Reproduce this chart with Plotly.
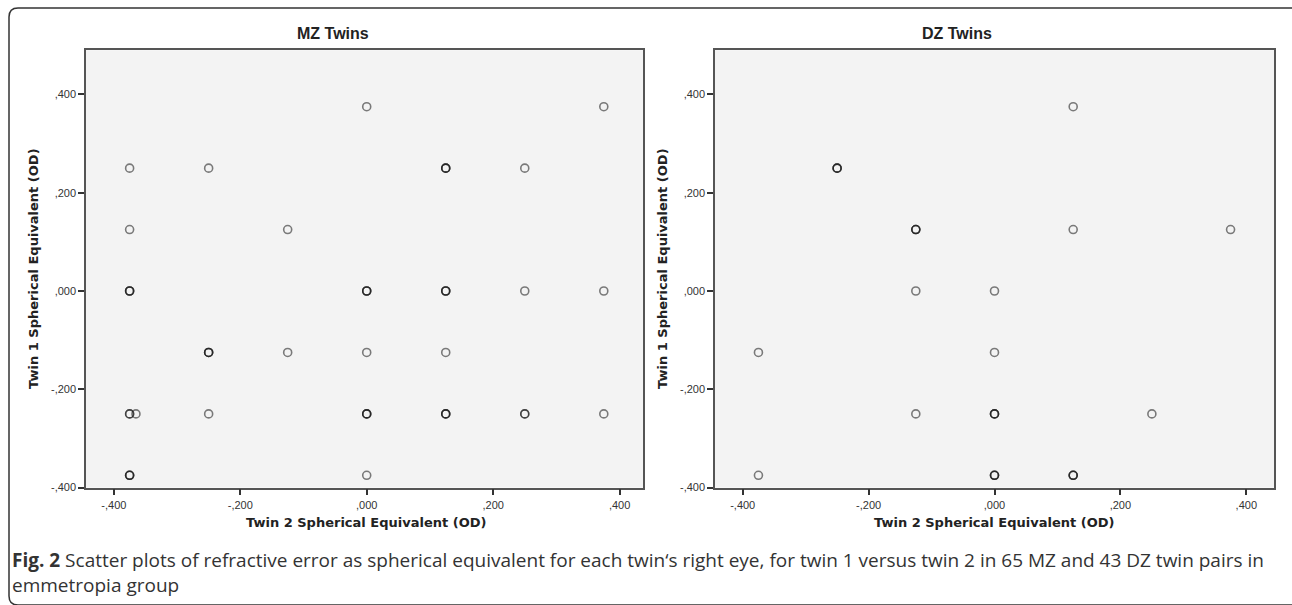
import plotly.graph_objects as go

# ---------------- data ----------------
mz_x = [0.0, 0.375,
        -0.375, -0.25, 0.125, 0.125, 0.125, 0.25,
        -0.375, -0.125,
        -0.375, -0.375, -0.375, 0.0, 0.0, 0.0, 0.125, 0.125, 0.125, 0.25, 0.375,
        -0.25, -0.25, -0.25, -0.125, 0.0, 0.125,
        -0.375, -0.375, -0.365, -0.25, 0.0, 0.0, 0.0, 0.125, 0.125, 0.125, 0.25, 0.25, 0.375,
        -0.375, -0.375, -0.375, 0.0]
mz_y = [0.375, 0.375,
        0.25, 0.25, 0.25, 0.25, 0.25, 0.25,
        0.125, 0.125,
        0.0, 0.0, 0.0, 0.0, 0.0, 0.0, 0.0, 0.0, 0.0, 0.0, 0.0,
        -0.125, -0.125, -0.125, -0.125, -0.125, -0.125,
        -0.25, -0.25, -0.25, -0.25, -0.25, -0.25, -0.25, -0.25, -0.25, -0.25, -0.25, -0.25, -0.25,
        -0.375, -0.375, -0.375, -0.375]

dz_x = [0.125,
        -0.25, -0.25, -0.25,
        -0.125, -0.125, -0.125, 0.125, 0.375,
        -0.125, 0.0,
        -0.375, 0.0,
        -0.125, 0.0, 0.0, 0.0, 0.25,
        -0.375, 0.0, 0.0, 0.0, 0.125, 0.125, 0.125]
dz_y = [0.375,
        0.25, 0.25, 0.25,
        0.125, 0.125, 0.125, 0.125, 0.125,
        0.0, 0.0,
        -0.125, -0.125,
        -0.25, -0.25, -0.25, -0.25, -0.25,
        -0.375, -0.375, -0.375, -0.375, -0.375, -0.375, -0.375]

tick_vals = [-0.4, -0.2, 0.0, 0.2, 0.4]
tick_text = ["-,400", "-,200", ",000", ",200", ",400"]

panel_titles = ["MZ Twins", "DZ Twins"]
x_title = "Twin 2 Spherical Equivalent (OD)"
y_title = "Twin 1 Spherical Equivalent (OD)"
caption1 = "<b>Fig. 2</b> Scatter plots of refractive error as spherical equivalent for each twin\u2018s right eye, for twin 1 versus twin 2 in 65 MZ and 43 DZ twin pairs in"
caption2 = "emmetropia group"

# ---------------- figure ----------------
W, H = 1292, 613
SCALE = 613.0 / 605.0  # target pixel -> canvas pixel (vertical)
def px(x):
    return x / W
def py(y):
    return 1 - (y * SCALE) / H

fig = go.Figure()
marker = dict(symbol="circle-open", size=8,
              line=dict(width=1.6, color="rgba(20,20,20,0.55)"),
              color="rgba(20,20,20,0.55)")
fig.add_trace(go.Scatter(x=mz_x, y=mz_y, mode="markers", marker=marker,
                         xaxis="x", yaxis="y", showlegend=False, hoverinfo="x+y"))
fig.add_trace(go.Scatter(x=dz_x, y=dz_y, mode="markers", marker=marker,
                         xaxis="x2", yaxis="y2", showlegend=False, hoverinfo="x+y"))

axis_common = dict(
    tickvals=tick_vals, ticktext=tick_text, ticks="outside", ticklen=6,
    tickwidth=1.5, tickcolor="#333", showline=True, linecolor="#555",
    linewidth=1.5, mirror=True, showgrid=False, zeroline=False,
    tickfont=dict(family="Liberation Sans, Arial", size=11, color="#333"),
)

fig.update_layout(
    width=W, height=H, autosize=False,
    margin=dict(l=0, r=0, t=0, b=0),
    paper_bgcolor="white",
    plot_bgcolor="#f3f3f3",
    xaxis=dict(domain=[px(86), px(643)], range=[-0.444, 0.437], anchor="y", **axis_common),
    yaxis=dict(domain=[py(486), py(50)], range=[-0.4, 0.49], anchor="x", **axis_common),
    xaxis2=dict(domain=[px(715), px(1274)], range=[-0.444, 0.444], anchor="y2", **axis_common),
    yaxis2=dict(domain=[py(486), py(50)], range=[-0.4, 0.49], anchor="x2", **axis_common),
)

ann = []
title_font = dict(family="Liberation Sans, Arial", size=16, color="#222")
axt_font = dict(family="DejaVu Sans, Verdana", size=13, color="#222")
for title, cx in [(panel_titles[0], 333), (panel_titles[1], 957)]:
    ann.append(dict(text="<b>%s</b>" % title, x=px(cx), y=py(33), xref="paper", yref="paper",
                    showarrow=False, font=title_font, xanchor="center", yanchor="middle"))
for cx in [366, 994]:
    ann.append(dict(text="<b>%s</b>" % x_title, x=px(cx), y=py(521), xref="paper", yref="paper",
                    showarrow=False, font=axt_font, xanchor="center", yanchor="middle"))
for cx in [34, 663]:
    ann.append(dict(text="<b>%s</b>" % y_title, x=px(cx), y=py(268), xref="paper", yref="paper",
                    showarrow=False, font=axt_font, xanchor="center", yanchor="middle",
                    textangle=-90))
cap_font = dict(family="Open Sans", size=19, color="#333")
ann.append(dict(text=caption1, x=px(10), y=py(558), xref="paper", yref="paper",
                showarrow=False, font=cap_font, xanchor="left", yanchor="middle"))
ann.append(dict(text=caption2, x=px(10), y=py(583), xref="paper", yref="paper",
                showarrow=False, font=cap_font, xanchor="left", yanchor="middle"))
fig.update_layout(annotations=ann)

# rounded frame around the figure (left side with rounded corners; right side runs off)
x0, y0, x1, y1 = 9, 8, 1300, 603
r = 9
path = ("M %f,%f L %f,%f Q %f,%f %f,%f L %f,%f Q %f,%f %f,%f L %f,%f" % (
    px(x1), py(y0), px(x0 + r), py(y0),
    px(x0), py(y0), px(x0), py(y0 + r),
    px(x0), py(y1 - r),
    px(x0), py(y1), px(x0 + r), py(y1),
    px(x1), py(y1)))
fig.add_shape(type="path", path=path, xref="paper", yref="paper",
              line=dict(color="#333", width=1.5), fillcolor="rgba(0,0,0,0)", layer="above")

fig.write_html(
    "out.html",
    config={"displayModeBar": False},
    post_script=(
        "document.documentElement.style.margin='0';"
        "document.documentElement.style.overflow='hidden';"
        "document.body.style.margin='0';"
        "document.body.style.overflow='hidden';"
        "var gd=document.getElementById('{plot_id}');"
        "gd.style.position='fixed';gd.style.top='0px';gd.style.left='0px';"
    ),
)
